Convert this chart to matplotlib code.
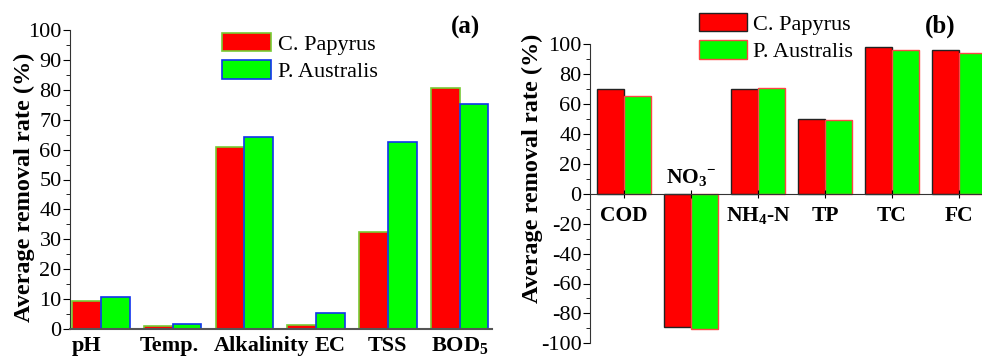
import matplotlib
matplotlib.use("Agg")
from matplotlib import pyplot as plt
from matplotlib.ticker import MultipleLocator

plt.rcParams['font.family'] = 'serif'
plt.rcParams['font.serif'] = ['Liberation Serif', 'Times New Roman', 'DejaVu Serif']
plt.rcParams['mathtext.fontset'] = 'custom'
plt.rcParams['mathtext.rm'] = 'Liberation Serif'
plt.rcParams['mathtext.bf'] = 'Liberation Serif:bold'
plt.rcParams['axes.unicode_minus'] = False

# Panel (a) data
params_a = ["pH", "Temp.", "Alkalinity", "EC", "TSS", r"BOD$_\mathbf{5}$"]
papyrus_a = [9.2, 1.0, 61.0, 1.5, 32.3, 80.5]
australis_a = [10.6, 1.6, 64.3, 5.2, 62.6, 75.2]

# Panel (b) data
params_b = ["COD", r"NO$_\mathbf{3}{}^\mathbf{-}$", r"NH$_\mathbf{4}$-N", "TP", "TC", "FC"]
papyrus_b = [70.0, -88.8, 70.0, 50.2, 98.1, 95.9]
australis_b = [65.1, -90.5, 70.9, 49.5, 96.3, 94.1]

RED = "#ff0000"
GREEN = "#00ff00"
W, H = 982, 357

fig = plt.figure(figsize=(W / 100, H / 100), dpi=100)

# ---------- panel (a)
ax1 = fig.add_axes([70 / W, 1 - 329 / H, 422 / W, 299 / H])
x = list(range(1, len(params_a) + 1))
bw = 0.4
ax1.bar([i - bw / 2 for i in x], papyrus_a, bw, color=RED, edgecolor="#77cc33",
        linewidth=1.2, label="C. Papyrus")
ax1.bar([i + bw / 2 for i in x], australis_a, bw, color=GREEN, edgecolor="#1133ee",
        linewidth=1.2, label="P. Australis")
ax1.set_xlim(0.57, 6.45)
ax1.set_ylim(0, 100)
ax1.yaxis.set_major_locator(MultipleLocator(10))
ax1.yaxis.set_minor_locator(MultipleLocator(5))
ax1.set_xticks(x)
ax1.set_xticklabels([])
ax1.tick_params(axis="x", length=0)
ax1.tick_params(axis="y", which="major", length=5, labelsize=16, pad=1)
ax1.tick_params(axis="y", which="minor", length=3)
# category labels sit a little off-centre in the original
shift = [-0.2, -0.04, 0.235, 0.2, 0.0, 0.0]
for i, lab, dx in zip(x, params_a, shift):
    ax1.text(i + dx, -2.2, lab, ha="center", va="top", fontsize=16,
             fontweight="bold", clip_on=False)
for s in ["top", "right"]:
    ax1.spines[s].set_visible(False)
ax1.spines["left"].set_color("#333333")
ax1.spines["bottom"].set_color("#555555")
ax1.spines["bottom"].set_linewidth(1.5)
ax1.set_ylabel("Average removal rate (%)", fontsize=17.5, fontweight="bold")
ax1.yaxis.set_label_coords(-0.083, 0.475)
ax1.legend(loc="upper left", bbox_to_anchor=(222 / W, 1 - 33 / H),
           bbox_transform=fig.transFigure, frameon=False, fontsize=16,
           handlelength=2.2, handleheight=0.9, handletextpad=0.3,
           labelspacing=0.25, borderpad=0, borderaxespad=0)
fig.text(466 / W, 1 - 27 / H, "(a)", fontsize=18, fontweight="bold",
         ha="center", va="center")

# ---------- panel (b)
ax2 = fig.add_axes([590 / W, 1 - 343.3 / H, 392 / W, 299 / H])
x = list(range(1, len(params_b) + 1))
ax2.bar([i - bw / 2 for i in x], papyrus_b, bw, color=RED, edgecolor="#222222",
        linewidth=1.0, label="C. Papyrus")
ax2.bar([i + bw / 2 for i in x], australis_b, bw, color=GREEN, edgecolor="#ff4444",
        linewidth=1.0, label="P. Australis")
ax2.set_xlim(0.49, 6.343)
ax2.set_ylim(-100, 100)
ax2.yaxis.set_major_locator(MultipleLocator(20))
ax2.yaxis.set_minor_locator(MultipleLocator(10))
ax2.set_xticks(x)
ax2.set_xticklabels([])
ax2.tick_params(axis="x", direction="inout", length=6)
ax2.tick_params(axis="y", which="major", length=5, labelsize=16, pad=1)
ax2.tick_params(axis="y", which="minor", length=3)
for s in ["top", "right"]:
    ax2.spines[s].set_visible(False)
ax2.spines["bottom"].set_position(("data", 0))
ax2.spines["bottom"].set_color("#333333")
ax2.spines["left"].set_color("#333333")
for i, lab, v in zip(x, params_b, papyrus_b):
    if v < 0:
        ax2.text(i, 3, lab, ha="center", va="bottom", fontsize=15.5, fontweight="bold")
    else:
        ax2.text(i, -8, lab, ha="center", va="top", fontsize=15.5, fontweight="bold")
ax2.set_ylabel("Average removal rate (%)", fontsize=17.5, fontweight="bold")
ax2.yaxis.set_label_coords(-0.12, 0.586)
ax2.legend(loc="upper left", bbox_to_anchor=(699 / W, 1 - 13 / H),
           bbox_transform=fig.transFigure, frameon=False, fontsize=16,
           handlelength=2.15, handleheight=0.9, handletextpad=0.3,
           labelspacing=0.25, borderpad=0, borderaxespad=0)
fig.text(940 / W, 1 - 26 / H, "(b)", fontsize=18, fontweight="bold",
         ha="center", va="center")

plt.savefig("out.png", dpi=100)
